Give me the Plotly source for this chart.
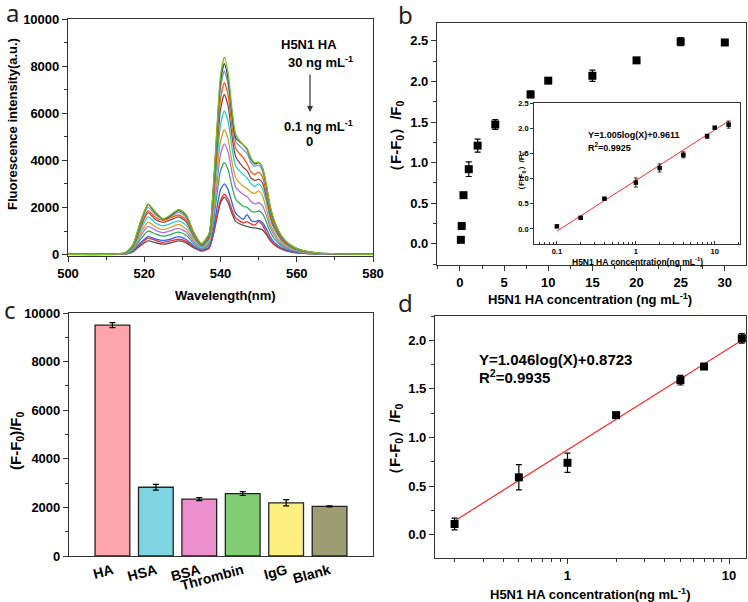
import plotly.graph_objects as go

# ---- panel a: emission spectra ----
wl = [500, 512, 515, 517, 519, 521, 523, 525, 527, 529, 531, 533, 535, 537, 538, 539, 540,
      541, 542, 543, 544, 546, 547, 548, 549, 550, 551, 552, 553, 554, 556, 558, 561, 566, 580]

spectra = [
    ('0', '#555555', [5, 8, 25, 110, 380, 580, 500, 440, 500, 580, 500, 280, 150, 270, 750, 1500, 2200,
                      2430, 2200, 1750, 1400, 1240, 1200, 1150, 1130, 1100, 1050, 850, 600, 430, 230, 130, 60, 20, 5]),
    ('0.1', '#ff2a2a', [5, 8, 25, 120, 450, 700, 600, 520, 580, 650, 560, 310, 170, 290, 800, 1600, 2300,
                        2550, 2350, 1900, 1550, 1350, 1400, 1300, 1250, 1400, 1250, 950, 650, 460, 250, 140, 65, 20, 5]),
    ('0.2', '#2a62f5', [5, 8, 30, 140, 500, 760, 660, 600, 660, 760, 640, 360, 190, 330, 950, 1900, 2750,
                        3000, 2750, 2200, 1750, 1500, 1700, 1450, 1400, 1450, 1350, 1100, 760, 540, 290, 160, 75, 22, 5]),
    ('0.4', '#2fae58', [6, 10, 40, 190, 650, 1000, 870, 780, 860, 950, 820, 460, 230, 420, 1220, 2450, 3550,
                        3900, 3600, 2900, 2350, 2050, 2000, 1850, 1800, 1850, 1750, 1400, 980, 700, 380, 210, 95, 28, 6]),
    ('1', '#b06ef2', [7, 11, 45, 230, 780, 1200, 1030, 930, 1020, 1110, 960, 540, 270, 500, 1460, 2900, 4250,
                      4700, 4350, 3500, 2850, 2550, 2450, 2250, 2150, 2200, 2080, 1680, 1180, 840, 450, 250, 110, 33, 6]),
    ('2', '#dca01e', [7, 12, 50, 260, 890, 1380, 1170, 1060, 1160, 1280, 1090, 610, 300, 570, 1650, 3300, 4800,
                      5300, 4900, 3950, 3250, 2900, 2800, 2650, 2600, 2700, 2500, 1950, 1350, 950, 510, 290, 125, 38, 7]),
    ('4', '#1ed2d6', [8, 14, 58, 300, 1020, 1600, 1340, 1220, 1320, 1430, 1250, 700, 340, 660, 1900, 3800, 5500,
                      6100, 5650, 4550, 3750, 3400, 3250, 3000, 2900, 3000, 2800, 2250, 1550, 1100, 590, 330, 145, 44, 7]),
    ('8', '#8e4a4a', [9, 16, 65, 330, 1140, 1780, 1480, 1370, 1480, 1600, 1390, 780, 380, 730, 2100, 4250, 6150,
                      6800, 6300, 5050, 4150, 3700, 3550, 3250, 3150, 3200, 3050, 2450, 1700, 1200, 650, 365, 160, 48, 8]),
    ('10', '#ff5a0a', [9, 17, 70, 350, 1220, 1870, 1570, 1450, 1570, 1680, 1480, 830, 400, 780, 2250, 4550, 6600,
                       7300, 6750, 5450, 4500, 4100, 3850, 3500, 3400, 3500, 3300, 2650, 1830, 1300, 700, 390, 175, 52, 9]),
    ('15', '#6a98e2', [10, 18, 75, 370, 1300, 2000, 1680, 1510, 1620, 1800, 1580, 880, 430, 840, 2420, 4850, 7050,
                       7800, 7200, 5800, 4800, 4450, 4300, 3900, 3750, 3800, 3550, 2850, 1970, 1400, 750, 420, 185, 56, 9]),
    ('20', '#4a4a4a', [10, 19, 78, 390, 1360, 2120, 1760, 1500, 1660, 1880, 1660, 920, 450, 870, 2520, 5050, 7350,
                       8100, 7450, 6000, 4950, 4650, 4450, 4050, 3850, 3900, 3680, 2950, 2050, 1470, 780, 440, 195, 58, 10]),
    ('30', '#78c01e', [10, 20, 80, 400, 1400, 2150, 1800, 1520, 1700, 1920, 1700, 950, 460, 900, 2600, 5200, 7600,
                       8380, 7700, 6200, 5100, 4650, 4500, 4100, 3900, 3920, 3700, 3000, 2100, 1500, 800, 450, 200, 60, 10]),
]

# ---- panel b: response vs concentration ----
conc_b = [0.1, 0.2, 0.4, 1, 2, 4, 8, 10, 15, 20, 25, 30]
resp_b = [0.05, 0.22, 0.60, 0.92, 1.21, 1.47, 1.84, 2.01, 2.07, 2.26, 2.49, 2.48]
err_b = [0.02, 0.02, 0.02, 0.09, 0.08, 0.06, 0.04, 0.02, 0.07, 0.02, 0.05, 0.02]

# inset (linear range, log x)
conc_in = [0.1, 0.2, 0.4, 1, 2, 4, 8, 10, 15]
resp_in = [0.05, 0.22, 0.60, 0.92, 1.21, 1.47, 1.84, 2.01, 2.07]
err_in = [0.01, 0.01, 0.01, 0.09, 0.08, 0.06, 0.04, 0.02, 0.07]
fit_in = (1.005, 0.9611)
fit_in_x = [0.1, 15]

# ---- panel c: selectivity ----
proteins = ['HA', 'HSA', 'BSA', 'Thrombin', 'IgG', 'Blank']
sel_vals = [9500, 2830, 2340, 2570, 2190, 2040]
sel_err = [100, 120, 60, 80, 130, 20]
bar_colors = ['#fca6ab', '#7fd4e2', '#ee8fcd', '#82cd74', '#fcef80', '#9c9d72']

# ---- panel d: calibration ----
conc_d = [0.2, 0.5, 1, 2, 5, 7, 12]
resp_d = [0.11, 0.59, 0.74, 1.23, 1.59, 1.73, 2.02]
err_d = [0.06, 0.13, 0.10, 0.02, 0.05, 0.03, 0.05]
fit_d = (1.046, 0.8723)
fit_d_x = [0.2, 12]

import math

FONT = 'Liberation Sans, Arial, sans-serif'
tickfont = dict(family=FONT, size=13, color='black', weight='bold')
line_c = '#333333'


def ax(domain, **kw):
    base = dict(domain=domain, showline=True, linecolor=line_c, linewidth=1.2, mirror=True,
                ticks='outside', ticklen=5, tickwidth=1.2, tickcolor=line_c, automargin=False,
                showgrid=False, zeroline=False, tickfont=tickfont)
    base.update(kw)
    return base


fig = go.Figure()

# panel a
for name, color, vals in spectra:
    fig.add_trace(go.Scatter(x=wl, y=vals, mode='lines', name=name,
                             line=dict(color=color, width=1.3, shape='spline', smoothing=0.6),
                             xaxis='x', yaxis='y', showlegend=False))

# panel b
fig.add_trace(go.Scatter(x=conc_b, y=resp_b, mode='markers',
                         marker=dict(symbol='square', size=8, color='black'),
                         error_y=dict(type='data', array=err_b, color='black', thickness=1.2, width=3),
                         xaxis='x2', yaxis='y2', showlegend=False))

# inset
fig.add_trace(go.Scatter(x=fit_in_x, y=[fit_in[0] * math.log10(v) + fit_in[1] for v in fit_in_x],
                         mode='lines', line=dict(color='#ff2a2a', width=1),
                         xaxis='x3', yaxis='y3', showlegend=False))
fig.add_trace(go.Scatter(x=conc_in, y=resp_in, mode='markers',
                         marker=dict(symbol='square', size=4.5, color='black'),
                         error_y=dict(type='data', array=err_in, color='black', thickness=0.8, width=2),
                         xaxis='x3', yaxis='y3', showlegend=False))

# panel c
fig.add_trace(go.Bar(x=proteins, y=sel_vals, width=0.8,
                     marker=dict(color=bar_colors, line=dict(color='#222222', width=1.3)),
                     error_y=dict(type='data', array=sel_err, color='black', thickness=1.2, width=3),
                     xaxis='x4', yaxis='y4', showlegend=False))

# panel d
fig.add_trace(go.Scatter(x=fit_d_x, y=[fit_d[0] * math.log10(v) + fit_d[1] for v in fit_d_x],
                         mode='lines', line=dict(color='#ff2a2a', width=1.2),
                         xaxis='x5', yaxis='y5', showlegend=False))
fig.add_trace(go.Scatter(x=conc_d, y=resp_d, mode='markers',
                         marker=dict(symbol='square', size=8, color='black'),
                         error_y=dict(type='data', array=err_d, color='black', thickness=1.2, width=3),
                         xaxis='x5', yaxis='y5', showlegend=False))

W, H = 748, 602


def px(x0, x1):
    return [x0 / W, x1 / W]


def py(top, bottom):
    return [1 - bottom / H, 1 - top / H]


small_tf = dict(family=FONT, size=7.5, color='black', weight='bold')

fig.update_layout(
    width=W, height=H,
    margin=dict(l=0, r=0, t=0, b=0, autoexpand=False),
    paper_bgcolor='white', plot_bgcolor='white',
    xaxis=ax(px(68, 373), anchor='y', range=[500, 580], dtick=20,
             minor=dict(dtick=10, ticklen=3, tickcolor=line_c, ticks='outside')),
    yaxis=ax(py(19, 256), anchor='x', range=[-60, 10000], dtick=2000, tickformat='d',
             minor=dict(dtick=1000, ticklen=3, tickcolor=line_c, ticks='outside')),
    xaxis2=ax(px(437, 746), anchor='y2', range=[-2.6, 32.4], dtick=5,
              minor=dict(dtick=2.5, ticklen=3, tickcolor=line_c, ticks='outside')),
    yaxis2=ax(py(23, 265), anchor='x2', range=[-0.26, 2.72], dtick=0.5, tickformat='.1f',
              minor=dict(dtick=0.25, ticklen=3, tickcolor=line_c, ticks='outside')),
    xaxis3=ax(px(534, 740), anchor='y3', type='log', range=[-1.29, 1.32], dtick=1,
              tickfont=small_tf, ticks='inside', ticklen=3, linewidth=0.8, tickwidth=0.8,
              minor=dict(ticklen=2, tickcolor=line_c, ticks='inside')),
    yaxis3=ax(py(103, 244), anchor='x3', range=[-0.3, 2.5], dtick=0.5, tickformat='.1f',
              tickfont=small_tf, ticklen=3, linewidth=0.8, tickwidth=0.8),
    xaxis4=ax(px(69, 373), anchor='y4', type='category', range=[-1, 6], ticks='',
              tickangle=-15, tickfont=dict(family=FONT, size=14, color='black', weight='bold')),
    yaxis4=ax(py(313, 556), anchor='x4', range=[0, 10000], dtick=2000, tickformat='d',
              minor=dict(dtick=1000, ticklen=3, tickcolor=line_c, ticks='outside')),
    xaxis5=ax(px(435, 746), anchor='y5', type='log', range=[-0.82, 1.105], dtick=1,
              minor=dict(ticklen=3, tickcolor=line_c, ticks='outside')),
    yaxis5=ax(py(316, 558), anchor='x5', range=[-0.24, 2.25], dtick=0.5, tickformat='.1f',
              minor=dict(dtick=0.25, ticklen=3, tickcolor=line_c, ticks='outside')),
)

lbl = dict(family=FONT, size=13, color='black', weight='bold')
letter = dict(family='Noto Sans, sans-serif', size=24, color='#222222')


def note(x, y, text, font, **kw):
    opts = dict(xanchor='center', yanchor='middle')
    opts.update(kw)
    fig.add_annotation(x=x / W, y=1 - y / H, xref='paper', yref='paper', text=text,
                       showarrow=False, font=font, **opts)


# panel letters
note(12, 12, 'a', letter)
note(406, 14, 'b', letter)
note(10, 309, 'c', letter)
note(405, 302, 'd', letter)

# axis titles
note(12, 124, 'Fluorescence intensity(a.u.)', lbl, textangle=-90)
note(225, 295, 'Wavelength(nm)', lbl)
note(397, 140, '（F-F<sub>0</sub>）/F<sub>0</sub>', dict(lbl, size=15), textangle=-90)
note(590, 299, 'H5N1 HA concentration (ng mL<sup>-1</sup>)', lbl)
note(16, 440, '(F-F<sub>0</sub>)/F<sub>0</sub>', dict(lbl, size=15), textangle=-90)
note(395, 443, '（F-F<sub>0</sub>）/F<sub>0</sub>', dict(lbl, size=15), textangle=-90)
note(590, 594, 'H5N1 HA concentration(ng mL<sup>-1</sup>)', lbl)

# inset titles
note(522, 173, '（F-F<sub>0</sub>）/F<sub>0</sub>', dict(small_tf, size=8), textangle=-90)
note(637, 261, 'H5N1 HA concentration(ng mL<sup>-1</sup>)', dict(small_tf, size=8.5))
note(586, 135, 'Y=1.005log(X)+0.9611', dict(small_tf, size=9), xanchor='left')
note(586, 147, 'R<sup>2</sup>=0.9925', dict(small_tf, size=9), xanchor='left')

# panel d equation
note(477, 359, 'Y=1.046log(X)+0.8723', dict(lbl, size=15), xanchor='left')
note(477, 376, 'R<sup>2</sup>=0.9935', dict(lbl, size=15), xanchor='left')

# panel a concentration legend
note(309, 45, 'H5N1 HA', lbl)
note(320, 62, '30 ng mL<sup>-1</sup>', lbl)
note(318, 126, '0.1 ng mL<sup>-1</sup>', lbl)
note(309, 141, '0', lbl)
fig.add_annotation(x=310 / W, y=1 - 112 / H, ax=0, ay=-39, axref='pixel', ayref='pixel',
                   xref='paper', yref='paper',
                   text='', showarrow=True, arrowhead=2, arrowsize=1, arrowwidth=1.2, arrowcolor='#333333')

fig.write_html("out.html", config={'displayModeBar': False},
               post_script="document.body.style.margin='0';")
